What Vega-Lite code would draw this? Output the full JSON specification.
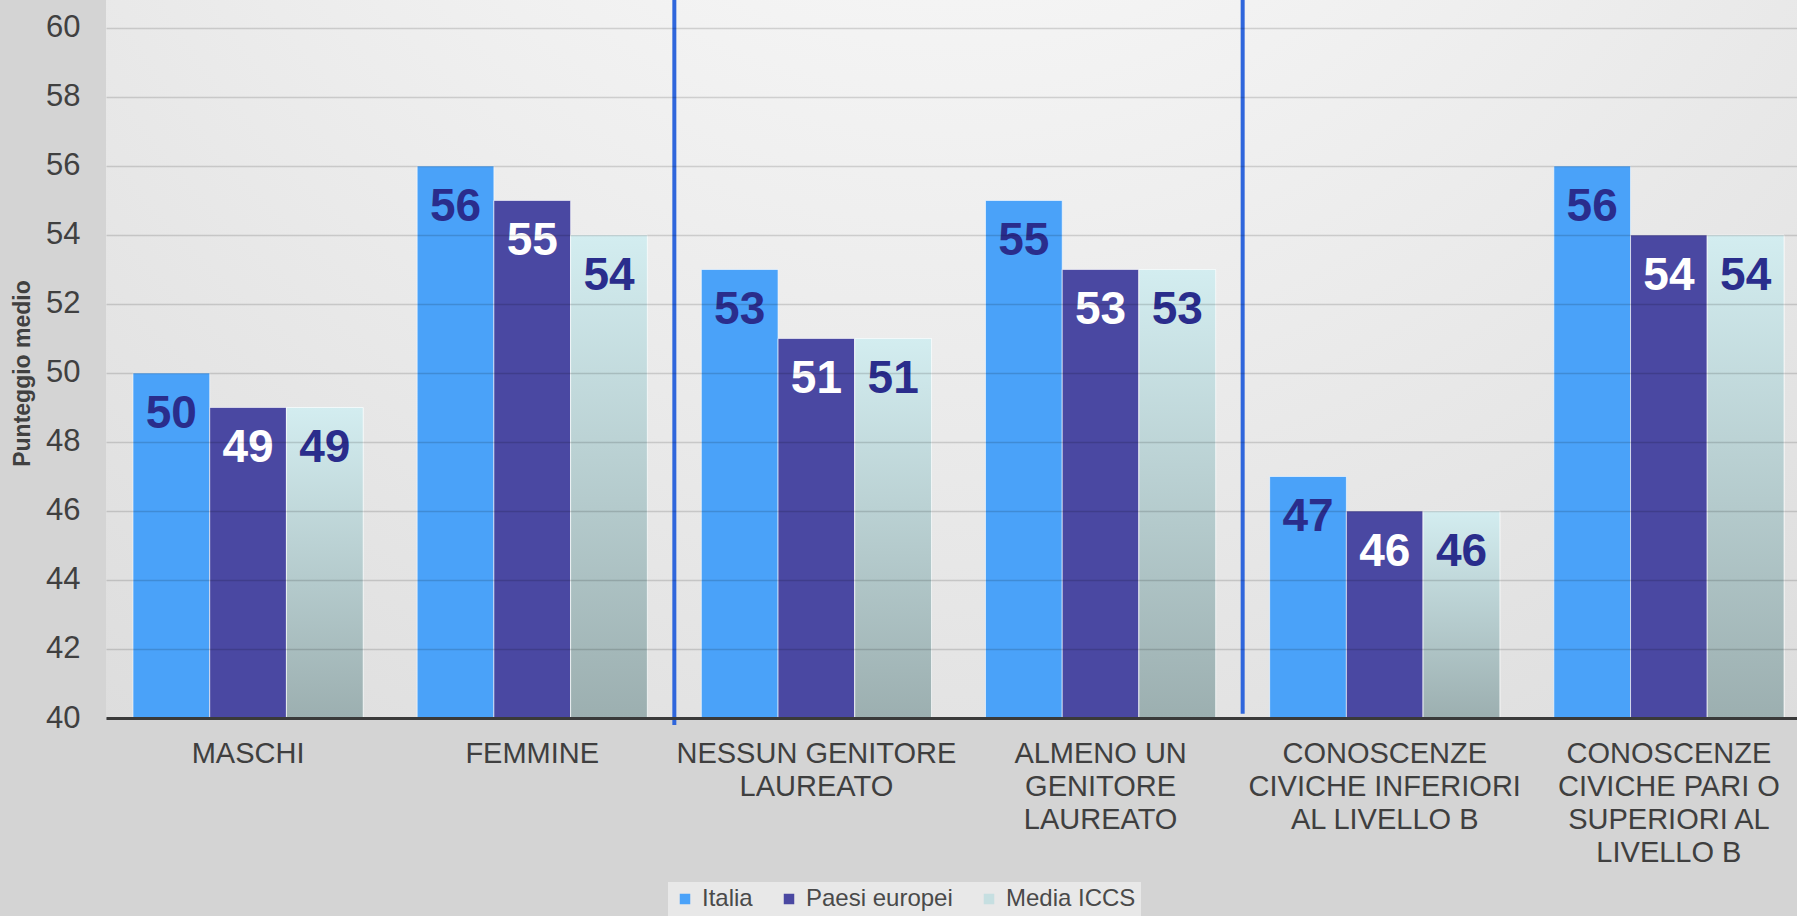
{
  "$schema": "https://vega.github.io/schema/vega-lite/v6.json",
  "width": 1691,
  "height": 718,
  "autosize": {"type": "none"},
  "padding": {"left": 106, "top": 0, "right": 0, "bottom": 198},
  "background": "#d4d4d4",
  "config": {
    "font": "Liberation Sans",
    "view": {
      "stroke": null,
      "fill": {
        "gradient": "radial",
        "x1": 0.5, "y1": 0.0, "r1": 0,
        "x2": 0.5, "y2": 0.0, "r2": 1.1,
        "stops": [
          {"offset": 0, "color": "#ffffff"},
          {"offset": 0.45, "color": "#ececec"},
          {"offset": 1, "color": "#d4d4d4"}
        ]
      }
    }
  },
  "datasets": {
    "scores": [
      {"gruppo": "MASCHI", "serie": "Italia", "punteggio": 50},
      {"gruppo": "MASCHI", "serie": "Paesi europei", "punteggio": 49},
      {"gruppo": "MASCHI", "serie": "Media ICCS", "punteggio": 49},
      {"gruppo": "FEMMINE", "serie": "Italia", "punteggio": 56},
      {"gruppo": "FEMMINE", "serie": "Paesi europei", "punteggio": 55},
      {"gruppo": "FEMMINE", "serie": "Media ICCS", "punteggio": 54},
      {"gruppo": "NESSUN GENITORE|LAUREATO", "serie": "Italia", "punteggio": 53},
      {"gruppo": "NESSUN GENITORE|LAUREATO", "serie": "Paesi europei", "punteggio": 51},
      {"gruppo": "NESSUN GENITORE|LAUREATO", "serie": "Media ICCS", "punteggio": 51},
      {"gruppo": "ALMENO UN|GENITORE|LAUREATO", "serie": "Italia", "punteggio": 55},
      {"gruppo": "ALMENO UN|GENITORE|LAUREATO", "serie": "Paesi europei", "punteggio": 53},
      {"gruppo": "ALMENO UN|GENITORE|LAUREATO", "serie": "Media ICCS", "punteggio": 53},
      {"gruppo": "CONOSCENZE|CIVICHE INFERIORI|AL LIVELLO B", "serie": "Italia", "punteggio": 47},
      {"gruppo": "CONOSCENZE|CIVICHE INFERIORI|AL LIVELLO B", "serie": "Paesi europei", "punteggio": 46},
      {"gruppo": "CONOSCENZE|CIVICHE INFERIORI|AL LIVELLO B", "serie": "Media ICCS", "punteggio": 46},
      {"gruppo": "CONOSCENZE|CIVICHE PARI O|SUPERIORI AL|LIVELLO B", "serie": "Italia", "punteggio": 56},
      {"gruppo": "CONOSCENZE|CIVICHE PARI O|SUPERIORI AL|LIVELLO B", "serie": "Paesi europei", "punteggio": 54},
      {"gruppo": "CONOSCENZE|CIVICHE PARI O|SUPERIORI AL|LIVELLO B", "serie": "Media ICCS", "punteggio": 54}
    ],
    "separatori": [
      {"gruppo": "NESSUN GENITORE|LAUREATO", "alto": 61, "basso": 39.8},
      {"gruppo": "CONOSCENZE|CIVICHE INFERIORI|AL LIVELLO B", "alto": 61, "basso": 40.12}
    ]
  },
  "resolve": {"scale": {"x": "independent", "y": "independent"}},
  "layer": [
    {
      "data": {"name": "scores"},
      "encoding": {
        "x": {
          "field": "gruppo", "type": "nominal", "sort": null, "title": null,
          "scale": {"range": [0, 1705], "paddingInner": 0.19, "paddingOuter": 0.095},
          "axis": {
            "labelExpr": "split(datum.label, '|')",
            "labelFontSize": 29, "labelColor": "#3f3f3f", "labelLineHeight": 33,
            "labelPadding": 21, "labelAngle": 0, "labelLimit": 0,
            "ticks": false, "domainColor": "#3a3a3a", "domainWidth": 3, "grid": false, "zindex": 1
          }
        },
        "xOffset": {
          "field": "serie", "type": "nominal",
          "scale": {"domain": ["Italia", "Paesi europei", "Media ICCS"]}
        },
        "y": {
          "field": "punteggio", "type": "quantitative", "title": "Punteggio medio",
          "scale": {"domain": [40, 60.81], "nice": false, "zero": false},
          "axis": {
            "values": [40, 42, 44, 46, 48, 50, 52, 54, 56, 58, 60],
            "labelFontSize": 31, "labelColor": "#404040", "labelPadding": 26,
            "ticks": false, "domain": false,
            "gridColor": "#000000", "gridOpacity": 0.14, "gridWidth": 1.5,
            "titleFontSize": 23, "titleFontWeight": "bold", "titleColor": "#404040",
            "titleX": -84, "titleY": 373, "titleBaseline": "middle", "titleAngle": -90,
            "zindex": 1
          }
        }
      },
      "layer": [
        {
          "mark": {"type": "bar", "stroke": "#ffffff", "strokeWidth": 1, "strokeOpacity": 0.6},
          "encoding": {
            "y2": {"datum": 40},
            "color": {
              "field": "serie", "type": "nominal",
              "scale": {"domain": ["Italia", "Paesi europei", "Media ICCS"], "range": ["#4aa2f9", "#4a48a2", "#c6dfe1"]},
              "legend": {
                "title": null, "orient": "none", "legendX": 562, "legendY": 882,
                "direction": "horizontal", "symbolType": "square", "symbolSize": 110,
                "symbolStrokeWidth": 0, "labelFontSize": 24, "labelColor": "#4a4a4a",
                "fillColor": "#e8e8e8", "padding": 5, "columnPadding": 24, "labelOffset": 5
              }
            }
          }
        },
        {
          "transform": [{"filter": "datum.serie === 'Media ICCS'"}],
          "mark": {
            "type": "bar", "stroke": "#ffffff", "strokeWidth": 1, "strokeOpacity": 0.6,
            "color": {
              "gradient": "linear", "x1": 0, "y1": 0, "x2": 0, "y2": 1,
              "stops": [
                {"offset": 0, "color": "#d3edf0"},
                {"offset": 1, "color": "#9cafb0"}
              ]
            }
          },
          "encoding": {"y2": {"datum": 40}}
        },
        {
          "mark": {"type": "text", "fontSize": 46, "fontWeight": "bold", "baseline": "alphabetic", "align": "center", "dy": 55},
          "encoding": {
            "text": {"field": "punteggio", "type": "quantitative"},
            "color": {"condition": {"test": "datum.serie === 'Paesi europei'", "value": "#ffffff"}, "value": "#2a2d8c"}
          }
        }
      ]
    },
    {
      "data": {"name": "separatori"},
      "mark": {"type": "rule", "color": "#2f66dc", "strokeWidth": 4},
      "encoding": {
        "x": {
          "field": "gruppo", "type": "nominal", "bandPosition": 0, "axis": null,
          "scale": {
            "domain": ["MASCHI", "FEMMINE", "NESSUN GENITORE|LAUREATO", "ALMENO UN|GENITORE|LAUREATO", "CONOSCENZE|CIVICHE INFERIORI|AL LIVELLO B", "CONOSCENZE|CIVICHE PARI O|SUPERIORI AL|LIVELLO B"],
            "range": [0, 1705], "paddingInner": 0, "paddingOuter": 0
          }
        },
        "y": {"field": "alto", "type": "quantitative", "axis": null, "scale": {"domain": [40, 60.81], "nice": false, "zero": false}},
        "y2": {"field": "basso"}
      }
    }
  ]
}
